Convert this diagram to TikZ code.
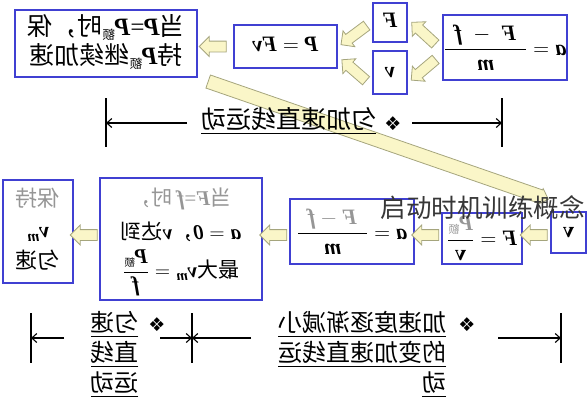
\RequirePackage{fix-cm}
\documentclass[tikz,border=0pt]{standalone}
\usepackage{graphicx}
\usepackage{amsmath}
\usepackage[no-math]{fontspec}
\setmainfont{Noto Sans CJK SC}
\newfontfamily\ser{Liberation Serif}
\newfontfamily\djv{DejaVu Sans}
\usetikzlibrary{shapes.arrows,calc,arrows.meta}
\definecolor{bb}{RGB}{64,64,210}
\definecolor{yf}{RGB}{250,246,200}
\definecolor{yd}{RGB}{165,165,125}
\definecolor{gt}{RGB}{150,150,150}
\definecolor{tc}{RGB}{55,55,55}
\newcommand\mv[1]{\text{\ser\bfseries\itshape #1}}
\newcommand\mir[1]{\reflectbox{\begin{tabular}{@{}c@{}}#1\end{tabular}}}
\newcommand\mirl[1]{\reflectbox{\begin{tabular}{@{}l@{}}#1\end{tabular}}}
\newcommand\sube{\ensuremath{{}_{\scriptscriptstyle\text{额}}}}
\newcommand\diam{{\djv\fontsize{19}{19}\selectfont ❖}}
\newcommand\fs[2]{\fontsize{#1}{#2}\selectfont}
\begin{document}
\begin{tikzpicture}[x=1pt,y=-1pt,
 box/.style={draw=bb,line width=1.8pt,inner sep=0pt,align=center},
 blk/.style={single arrow,draw=yd,fill=yf,line width=0.8pt,inner xsep=0pt,inner ysep=5pt,single arrow head extend=4.5pt,sloped,allow upside down,minimum height=27pt},
 band/.style={single arrow,draw=yd,fill=yf,line width=0.8pt,inner xsep=0pt,inner ysep=6.5pt,single arrow head extend=1.5pt,sloped,allow upside down},
 dim/.style={line width=1.1pt,-{Straight Barb[length=5pt,width=9pt]}},
 bar/.style={line width=1.6pt},
 lbl/.style={inner sep=0pt,font=\fs{24}{30}},
]
\useasboundingbox (0,0) rectangle (587,400);

% boxes
\node[box,minimum width=182pt,minimum height=67pt,font=\fs{25}{27}] (A) at (106,43.5)
  {\mir{当\mv{P}{\ser =}\mv{P}\sube 时，保\\持\mv{P}\sube 继续加速}};
\node[box,minimum width=103pt,minimum height=43pt,font=\fs{22}{26}] (B) at (285.5,46.5)
  {\mir{$\mv{P}=\mv{F}\mv{v}$}};
\node[box,minimum width=34pt,minimum height=39pt,font=\fs{22}{26}] (F) at (390,22.5) {\mir{\mv{F}}};
\node[box,minimum width=34pt,minimum height=43pt,font=\fs{22}{26}] (V) at (390,72.5) {\mir{\mv{v}}};
\node[box,minimum width=124pt,minimum height=65pt,font=\fs{22}{26}] (FM) at (505,47.5)
  {\mir{$\mv{a}=\dfrac{\hspace{10pt}\mv{F}\;-\;\mv{f}\hspace{10pt}}{\mv{m}}$}};

\node[box,minimum width=70pt,minimum height=103pt,font=\fs{22}{31}] (L) at (38,231.5)
  {\mir{\textcolor{gt}{保持}\\$\mv{v}_{\mv{m}}$\\匀速}};
\node[box,minimum width=162pt,minimum height=122pt,font=\fs{21}{34}] (BIG) at (181,239)
  {\mir{\textcolor{gt}{当\mv{F}{\ser =}\mv{f} 时，}\\$\mv{a}=\mv{0}$，\mv{v}达到\\最大$\mv{v}_{\mv{m}}=\dfrac{\mv{P}\sube}{\mv{f}}$}};
\node[box,minimum width=124pt,minimum height=65pt,font=\fs{22}{26}] (A2) at (352,231.5)
  {\mir{$\mv{a}=\dfrac{\hspace{10pt}\textcolor{gt}{\mv{F}-\mv{f}}\hspace{10pt}}{\mv{m}}$}};
\node[box,minimum width=80pt,minimum height=51pt,font=\fs{22}{26}] (F2) at (482,238.5)
  {\mir{$\mv{F}=\dfrac{\textcolor{gt}{\mv{P}\sube}}{\text{\ser\bfseries v}}$}};
\node[box,minimum width=35pt,minimum height=41pt,font=\fs{22}{26}] (V2) at (568.5,232.5)
  {\mir{\text{\ser\bfseries v}}};

% long band
\coordinate (bs) at ($(A.south east)+(7,2.5)$);
\coordinate (be) at ($(V2.north west)+(-5,-13)$);
\path let \p1=($(be)-(bs)$), \n1={veclen(\x1,\y1)} in
  (bs) -- node[band,minimum height=\n1] (bd) {} (be);

% block arrows top
\path (B.west) -- node[blk] (ar1) {} (A.east |- B.west);
\path ($(FM.west)+(-3,0)$) -- node[blk,minimum height=32pt] (ar2) {} ($(F.east)+(4,0)$);
\path ($(FM.west)+(-3,9)$) -- node[blk,minimum height=32pt] (ar3) {} ($(V.east)+(4,7)$);
\path ($(F.west)+(-4,2)$) -- node[blk,minimum height=32pt] (ar4) {} ($(B.east)+(6,-4)$);
\path ($(V.west)+(-4,10)$) -- node[blk,minimum height=32pt] (ar5) {} ($(B.east)+(6,15)$);

% block arrows bottom
\coordinate (yb) at (0,235);
\path (BIG.west |- yb) -- node[blk] (ar6) {} (L.east |- yb);
\path (A2.west |- yb) -- node[blk] (ar7) {} (BIG.east |- yb);
\path (F2.west |- yb) -- node[blk] (ar8) {} (A2.east |- yb);
\path (V2.west |- yb) -- node[blk] (ar9) {} (F2.east |- yb);

% top separator
\coordinate (tb1a) at (106,98); \coordinate (tb1b) at (106,147);
\coordinate (tb2a) at (502,98); \coordinate (tb2b) at (502,147);
\draw[bar] (tb1a) -- (tb1b); \draw[bar] (tb2a) -- (tb2b);
\coordinate (t1) at (187,123); \coordinate (t2) at (412,123);
\draw[dim] (t1) -- (tb1a |- t1);
\draw[dim] (t2) -- (tb2a |- t2);
\node[lbl,font=\fs{25}{30}] (tx1) at (288.5,122) {\mirl{\underline{匀加速直线运动}}};
\node[inner sep=0pt] (dm1) at (393,124) {\diam};

% bottom separator
\coordinate (bb1a) at (31,313); \coordinate (bb1b) at (31,363);
\coordinate (bb2a) at (192,313); \coordinate (bb2b) at (192,363);
\coordinate (bb3a) at (561,313); \coordinate (bb3b) at (561,363);
\draw[bar] (bb1a) -- (bb1b); \draw[bar] (bb2a) -- (bb2b); \draw[bar] (bb3a) -- (bb3b);
\coordinate (u1) at (64,338); \coordinate (u2) at (160,338);
\coordinate (u3) at (251,338); \coordinate (u4) at (498,338);
\draw[dim] (u1) -- (bb1a |- u1);
\draw[dim] (u2) -- (bb2a |- u2);
\draw[dim] (u3) -- (bb2a |- u3);
\draw[dim] (u4) -- (bb3a |- u4);
\node[lbl,anchor=north] (tx2) at (114.5,310) {\mirl{\underline{匀速}\\\underline{直线}\\\underline{运动}}};
\node[lbl,anchor=north] (tx3) at (362,310) {\mirl{\underline{加速度逐渐减小}\\\underline{的变加速直线运}\\\underline{动}}};
\node[inner sep=0pt] (dm2) at (157,325) {\diam};
\node[inner sep=0pt] (dm3) at (467,325) {\diam};

% overlay title
\node[inner sep=0pt,font=\fs{25.5}{30},text=tc] (ttl) at (482.5,208) {启动时机训练概念};
\end{tikzpicture}
\end{document}
